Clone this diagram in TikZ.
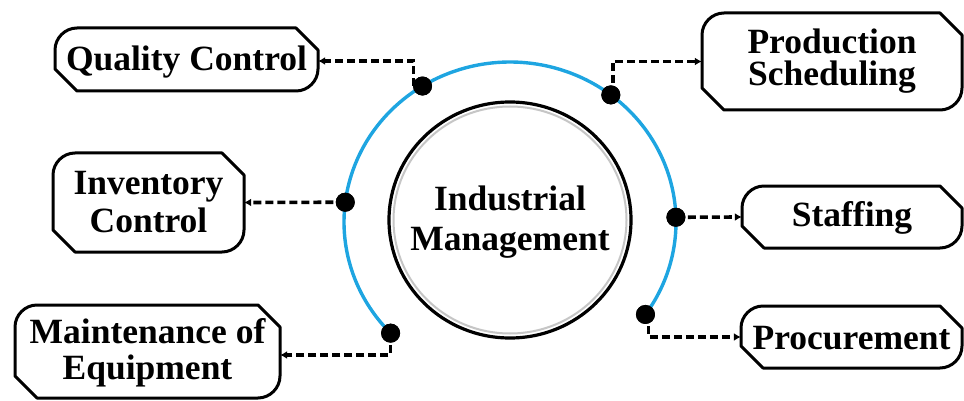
\documentclass[tikz,border=0pt]{standalone}
\usepackage{fontspec}
\setmainfont{Liberation Serif}
\usetikzlibrary{arrows.meta,calc,shapes.geometric}
\definecolor{arcblue}{RGB}{30,165,225}
\newcommand\snipbox[8]{%
  \draw[boxline] ({#2+22},#3) -- ({#4-22},#3) -- (#4,{#3+22}) -- (#4,{#5-22})
    .. controls (#4,{#5-10}) and ({#4-10},#5) .. ({#4-22},#5) -- ({#2+22},#5)
    -- (#2,{#5-22}) -- (#2,{#3+22})
    .. controls (#2,{#3+10}) and ({#2+10},#3) .. ({#2+22},#3) -- cycle;
  \node[lbl, font=\fontsize{35.5}{#6}\selectfont\bfseries,
        minimum width={#4-#2}, minimum height={#5-#3}] (#1) at ({(#2+#4)/2},{(#3+#5)/2}) {};
  \node[lbl, font=\fontsize{35.5}{#6}\selectfont\bfseries] (#1t) at ($(#1.center)+(0,#8)$) {#7};
}
\begin{document}
\begin{tikzpicture}[x=1pt,y=-1pt,
  lbl/.style={align=center, inner sep=0pt},
  boxline/.style={line width=3pt, line join=round, fill=white},
  conn/.style={line width=3.6pt, dash pattern=on 8pt off 4pt, -{Latex[length=7pt,width=8pt]}},
  dot/.style={circle, fill=black, minimum size=19pt, inner sep=0pt},
  hub/.style={draw, ellipse, line width=3.2pt, fill=white, minimum width=242pt, minimum height=236pt, inner sep=0pt},
]
\useasboundingbox (0,0) rectangle (964,401);

% boxes
\snipbox{qc}{55}{28}{318}{91}{38}{Quality Control}{3}
\snipbox{ps}{702}{13}{962}{110}{32}{Production\\Scheduling}{0}
\snipbox{ic}{53}{153}{244}{252}{38}{Inventory\\Control}{0}
\snipbox{me}{15}{305}{280}{398}{36}{Maintenance of\\Equipment}{1}
\snipbox{st}{742}{186}{962}{248}{38}{Staffing}{1}
\snipbox{pr}{741}{306}{962}{368}{38}{Procurement}{1}

% hub
\node[hub] (hubc) at (510,220) {};
\draw[gray!45, line width=2pt] (510,220) ellipse [x radius=116.5, y radius=113.5];
\node[lbl, font=\fontsize{35.5}{40}\selectfont\bfseries] (im) at (510,222) {Industrial\\Management};

% blue arc
\draw[arcblue, line width=3.4pt] plot[domain=-35.3:224, samples=200] ({510+166*cos(\x)},{222-160*sin(\x)});

% dots (positions on the arc)
\node[dot] (d1) at ({510+166*cos(121.8)},{222-160*sin(121.8)}) {};
\node[dot] (d2) at ({510+166*cos(52.6)},{222-160*sin(52.6)}) {};
\node[dot] (d3) at ({510+166*cos(172.9)},{222-160*sin(172.9)}) {};
\node[dot] (d4) at ({510+166*cos(1.7)},{222-160*sin(1.7)}) {};
\node[dot] (d5) at ({510+166*cos(224)},{222-160*sin(224)}) {};
\node[dot] (d6) at ({510+166*cos(-35.3)},{222-160*sin(-35.3)}) {};

% connectors
\draw[conn] ([xshift=-9pt]d1.center) |- ($(qc.east)+(0,1.5)$);
\draw[conn] ([xshift=2pt]d2.center) |- (ps.west);
\draw[conn] (d3.center) -- (ic.east);
\draw[conn] (d4.center) -- (st.west);
\draw[conn] (d5.center) |- ($(me.east)+(0,3.5)$);
\draw[conn] ([xshift=3pt]d6.center) |- (pr.west);

% dots on top of the connectors
\fill (d1) circle (9.5pt) (d2) circle (9.5pt) (d3) circle (9.5pt)
      (d4) circle (9.5pt) (d5) circle (9.5pt) (d6) circle (9.5pt);
\end{tikzpicture}
\end{document}
